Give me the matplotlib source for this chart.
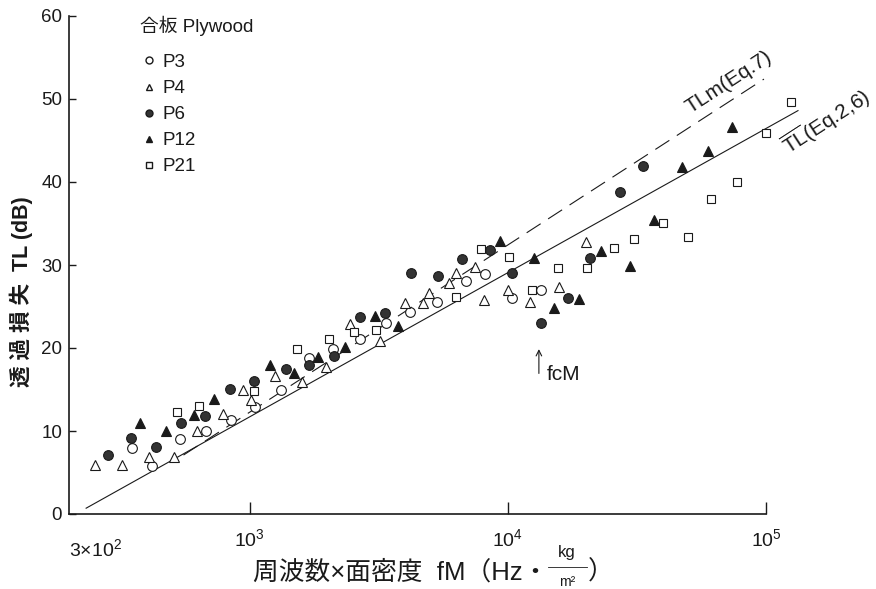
import matplotlib
matplotlib.use("Agg")
import matplotlib.pyplot as plt
from matplotlib.lines import Line2D

plt.rcParams['font.family'] = ['Liberation Sans', 'Noto Sans CJK JP', 'DejaVu Sans']
plt.rcParams['mathtext.fontset'] = 'custom'
plt.rcParams['mathtext.rm'] = 'Liberation Sans'
plt.rcParams['mathtext.it'] = 'Liberation Sans'

# fM (Hz*kg/m^2) and TL (dB) for each plywood specimen
p3_fm = [350, 420, 540, 680, 850, 1050, 1330, 1700, 2100, 2670, 3370, 4170,
         5300, 6870, 8200, 10400, 13400]
p3_tl = [8.0, 5.8, 9.0, 10.0, 11.3, 12.9, 15.0, 18.8, 19.9, 21.1, 23.0, 24.3,
         25.5, 28.1, 28.9, 26.0, 27.0]

p4_fm = [253, 322, 409, 512, 624, 793, 940, 1009, 1250, 1592, 1986, 2443,
         3192, 3990, 4688, 4943, 5902, 6281, 7447, 8072, 10000, 12160, 15780,
         20040]
p4_tl = [5.9, 5.9, 6.9, 6.9, 10.0, 12.0, 14.9, 13.7, 16.6, 15.9, 17.7, 22.9,
         20.8, 25.4, 25.4, 26.6, 27.8, 29.0, 29.8, 25.8, 27.0, 25.5, 27.3, 32.8]

p6_fm = [284, 349, 433, 541, 670, 843, 1045, 1380, 1694, 2118, 2667, 3334,
         4207, 5358, 6637, 8511, 10380, 13430, 17100, 20800, 27160, 33340]
p6_tl = [7.1, 9.2, 8.1, 11.0, 11.8, 15.1, 16.0, 17.5, 18.0, 19.0, 23.7, 24.2,
         29.0, 28.7, 30.7, 31.8, 29.0, 23.0, 26.0, 30.8, 38.8, 41.9]

p12_fm = [378, 476, 607, 731, 1197, 1483, 1849, 2333, 3048, 3750, 9311,
          12620, 15070, 18840, 22910, 29720, 36810, 47210, 59570, 73790]
p12_tl = [11.0, 10.0, 11.9, 13.9, 17.9, 17.0, 18.9, 20.1, 23.9, 22.7, 32.9,
          30.8, 24.8, 25.9, 31.7, 29.9, 35.4, 41.8, 43.7, 46.6]

p21_fm = [526, 640, 1038, 1521, 2023, 2529, 3076, 6281, 7852, 10090, 12390,
          15630, 20230, 25760, 30760, 39900, 49890, 61240, 77270, 100000,
          125000]
p21_tl = [12.3, 13.0, 14.8, 19.9, 21.1, 21.9, 22.2, 26.1, 31.9, 31.0, 27.0,
          29.6, 29.6, 32.0, 33.1, 35.1, 33.4, 38.0, 40.0, 45.9, 49.6]

# theoretical curves (end points)
tl_fm = [233, 133000]
tl_db = [0.7, 48.6]
tlm_fm = [555, 98200]
tlm_db = [7.1, 52.4]

fc_m = 13200  # coincidence fM

fig = plt.figure(figsize=(8.76, 5.89), dpi=100)
ax = fig.add_axes([69 / 876, 75 / 589, 697 / 876, 498 / 589])

ink = '#1a1a1a'
ax.plot(tl_fm, tl_db, color=ink, lw=0.8, clip_on=False)
ax.plot(tlm_fm, tlm_db, color=ink, lw=0.8, ls=(0, (15, 8)), clip_on=False)

kw = dict(ls='none', mew=0.8, mec=ink, clip_on=False, zorder=3)
ax.plot(p3_fm, p3_tl, marker='o', ms=7, mfc='white', **kw)
ax.plot(p4_fm, p4_tl, marker='^', ms=6.5, mfc='white', **kw)
ax.plot(p6_fm, p6_tl, marker='o', ms=7, mfc='#333333', **kw)
ax.plot(p12_fm, p12_tl, marker='^', ms=6.5, mfc=ink, **kw)
ax.plot(p21_fm, p21_tl, marker='s', ms=6, mfc='white', **kw)

ax.set_xscale('log')
ax.set_xlim(200, 1e5)
ax.set_ylim(0, 60)
ax.spines['top'].set_visible(False)
ax.spines['right'].set_visible(False)
for s in ('left', 'bottom'):
    ax.spines[s].set_linewidth(1.2)
    ax.spines[s].set_color(ink)

ax.set_yticks(range(0, 61, 10))
ax.set_xticks([1e3, 1e4, 1e5], ['$10^3$', '$10^4$', '$10^5$'])
ax.xaxis.set_minor_locator(plt.NullLocator())
ax.tick_params(axis='y', direction='in', length=5, width=1, pad=5,
               labelsize=13.5, colors=ink)
ax.tick_params(axis='x', direction='in', length=9, width=1, pad=10,
               labelsize=14, colors=ink)
ax.text(200, -0.048, r'$3{\times}10^2$', transform=ax.get_xaxis_transform(),
        ha='left', va='top', fontsize=14, color=ink)

# legend
ax.text(0.102, 0.980, '合板 Plywood', transform=ax.transAxes, ha='left',
        va='center', fontsize=13.5, color=ink)
handles = [
    Line2D([], [], marker='o', ms=5, mfc='white', mec=ink, ls='none'),
    Line2D([], [], marker='^', ms=5, mfc='white', mec=ink, ls='none'),
    Line2D([], [], marker='o', ms=5, mfc='#333333', mec=ink, ls='none'),
    Line2D([], [], marker='^', ms=5, mfc=ink, mec=ink, ls='none'),
    Line2D([], [], marker='s', ms=4.5, mfc='white', mec=ink, ls='none'),
]
leg = ax.legend(handles, ['P3', 'P4', 'P6', 'P12', 'P21'],
                loc='upper left', bbox_to_anchor=(0.102, 0.924),
                frameon=False, fontsize=13.5, borderpad=0, borderaxespad=0,
                labelspacing=0.48, handlelength=0.9, handletextpad=0.32)
for t in leg.get_texts():
    t.set_color(ink)

# curve labels
ax.text(71900, 52.0, 'TLm(Eq.7)', rotation=33, ha='center', va='center',
        fontsize=15, color=ink)
ax.text(171000, 47.3, r'$\overline{\mathrm{TL}}$(Eq.2,6)', rotation=33,
        ha='center', va='center', fontsize=15, color=ink, clip_on=False)

# coincidence marker
ax.annotate('', xy=(fc_m, 20.2), xytext=(fc_m, 16.6),
            arrowprops=dict(arrowstyle='->', color=ink, lw=0.8))
ax.text(fc_m * 1.07, 16.8, 'fcM', fontsize=15, va='center', ha='left',
        color=ink)

# axis titles
fig.text(21 / 876, 1 - 292 / 589, '透 過 損 失  TL (dB)', rotation=90,
         ha='center', va='center', fontsize=15.5, fontweight='bold', color=ink)
fig.text(548 / 876, 1 - 572 / 589, '周波数×面密度  fM（Hz・', ha='right',
         va='center', fontsize=18.5, color=ink)
fig.text(567 / 876, 1 - 553 / 589, 'kg', ha='center', va='center',
         fontsize=12, color=ink)
fig.text(567 / 876, 1 - 582 / 589, 'm²', ha='center', va='center',
         fontsize=10, color=ink)
fig.add_artist(Line2D([548 / 876, 587 / 876], [1 - 567 / 589, 1 - 567 / 589],
                      color=ink, lw=0.6))
fig.text(588 / 876, 1 - 572 / 589, '）', ha='left', va='center',
         fontsize=18.5, color=ink)

fig.savefig('out.png', dpi=100, facecolor='white')
